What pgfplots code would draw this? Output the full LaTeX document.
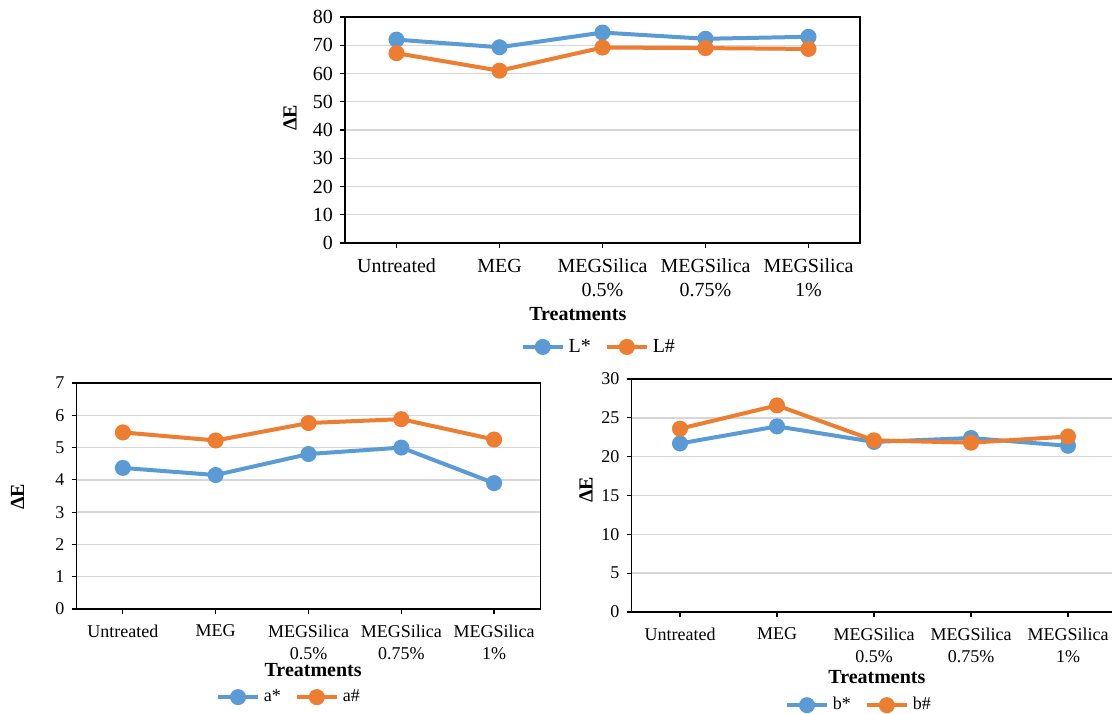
\documentclass[border=0pt]{standalone}
\usepackage{pgfplots}
\pgfplotsset{compat=1.18}
\usepackage{fontspec}
\setmainfont{Liberation Serif}
\definecolor{sblue}{RGB}{91,155,213}
\definecolor{sorange}{RGB}{237,125,49}

\pgfplotsset{
  treat/.style={
    scale only axis,
    xmin=-0.5, xmax=4.5, ymin=0,
    xtick={0,1,2,3,4},
    xticklabels={Untreated, MEG, {MEGSilica\\0.5\%}, {MEGSilica\\0.75\%}, {MEGSilica\\1\%}},
    x tick label style={align=center, anchor=north, yshift=-2pt},
    /pgf/number format/assume math mode=true,
    tick pos=left,
    tick align=outside, major tick length=2.5pt,
    tick style={black, line width=0.6pt},
    ymajorgrids, grid style={black!16, line width=0.7pt},
    axis line style={black, line width=0.7pt},
    xlabel={Treatments}, xlabel style={font=\bfseries, anchor=center},
    ylabel={ΔE}, ylabel style={font=\bfseries, anchor=center},
    legend columns=2,
    legend style={draw=none, fill=none, anchor=center, /tikz/every even column/.append style={column sep=5pt}},
    legend image code/.code={\draw[mark repeat=2,mark phase=2] plot coordinates {(0cm,0cm) (0.35cm,0cm) (0.7cm,0cm)};},
    clip=false,
  },
  sstar/.style={color=sblue, line width=2pt, mark=*, mark size=3pt},
  shash/.style={color=sorange, line width=2pt, mark=*, mark size=3pt},
}

\begin{document}
\begin{tikzpicture}
\useasboundingbox (0,0) rectangle (556pt,356.5pt);

% L* and L#
\begin{axis}[treat,
  at={(172.5pt,235pt)}, anchor=south west,
  width=257.5pt, height=113pt,
  ymax=80, ytick={0,10,...,80},
  font=\fontsize{10}{12}\selectfont,
  xlabel style={at={(axis description cs:0.452,-0.314)}},
  ylabel style={at={(axis description cs:-0.107,0.553)}},
  legend style={at={(axis description cs:0.495,-0.46)}, font=\fontsize{10}{12}\selectfont},
]
\addplot[sstar] coordinates {(0,72.0) (1,69.3) (2,74.5) (3,72.3) (4,73.0)};
\addlegendentry{L*}
\addplot[shash] coordinates {(0,67.2) (1,61.0) (2,69.2) (3,69.0) (4,68.7)};
\addlegendentry{L\#}
\end{axis}

% a* and a#
\begin{axis}[treat,
  at={(38.25pt,52pt)}, anchor=south west,
  width=232pt, height=113pt,
  ymax=7, ytick={0,1,...,7},
  font=\fontsize{9}{11}\selectfont,
  xlabel style={at={(axis description cs:0.51,-0.27)}},
  ylabel style={at={(axis description cs:-0.127,0.496)}},
  legend style={at={(axis description cs:0.46,-0.39)}, font=\fontsize{9}{11}\selectfont},
]
\addplot[sstar] coordinates {(0,4.37) (1,4.15) (2,4.80) (3,5.00) (4,3.90)};
\addlegendentry{a*}
\addplot[shash] coordinates {(0,5.47) (1,5.22) (2,5.76) (3,5.88) (4,5.25)};
\addlegendentry{a\#}
\end{axis}

% b* and b#
\begin{axis}[treat,
  at={(315.75pt,50.5pt)}, anchor=south west,
  width=242.5pt, height=116.5pt,
  ymax=30, ytick={0,5,...,30},
  font=\fontsize{9}{11}\selectfont,
  xlabel style={at={(axis description cs:0.506,-0.279)}},
  ylabel style={at={(axis description cs:-0.094,0.524)}},
  legend style={at={(axis description cs:0.471,-0.40)}, font=\fontsize{9}{11}\selectfont},
]
\addplot[sstar] coordinates {(0,21.7) (1,23.9) (2,21.9) (3,22.4) (4,21.4)};
\addlegendentry{b*}
\addplot[shash] coordinates {(0,23.6) (1,26.6) (2,22.1) (3,21.8) (4,22.6)};
\addlegendentry{b\#}
\end{axis}
\end{tikzpicture}
\end{document}
